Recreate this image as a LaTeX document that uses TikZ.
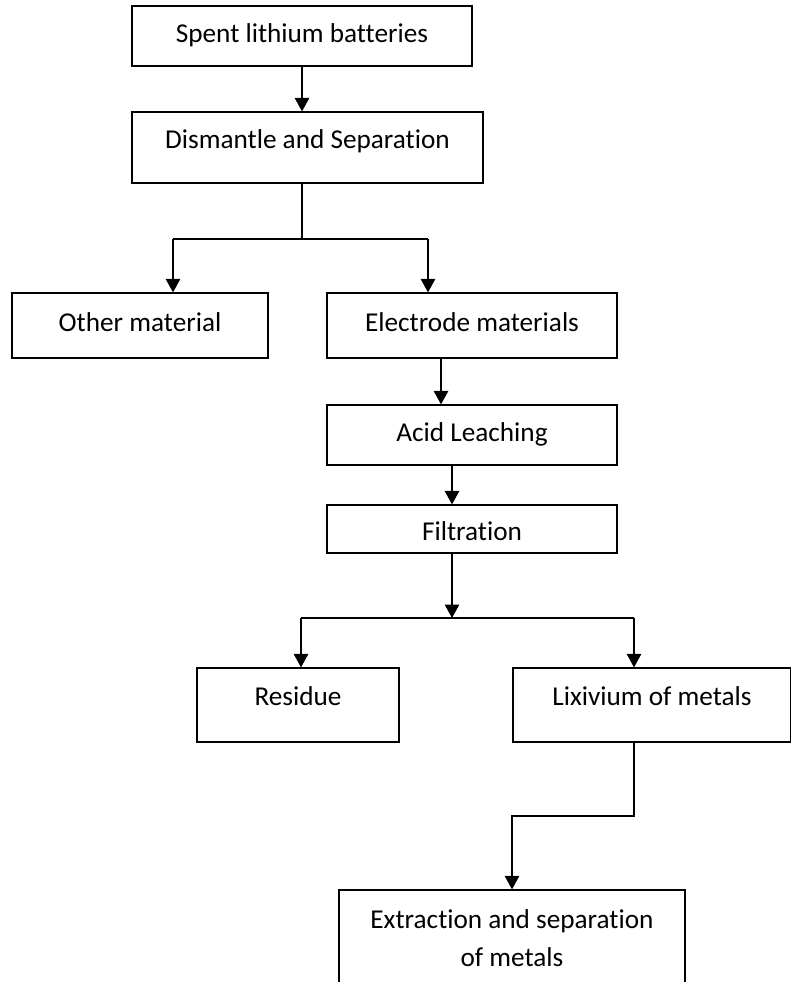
\documentclass[tikz,border=0pt]{standalone}
\usepackage{fontspec}
\setmainfont{Carlito}[Ligatures={NoCommon,NoContextual}]
\usetikzlibrary{positioning,arrows.meta,calc}
\tikzset{
    procbox/.style={
        draw=black, fill=white, line width=0.7pt,
        font=\fontsize{15.5}{21.6}\selectfont, align=center,
        inner sep=0pt
    },
    oneline/.style={
        procbox, text height=10pt, text depth=3.5pt
    },
    arrow/.style={-{Triangle[length=0.27cm, width=0.29cm]}, line width=0.7pt},
    link/.style={line width=0.7pt},
}

\begin{document}
\begin{tikzpicture}[x=0.02cm, y=-0.02cm]
    \useasboundingbox (0,0) rectangle (790,982);
    % boxes
    \node[oneline, minimum width=6.8cm, minimum height=1.2cm, text height=11pt] (spent) at (302,36) {Spent lithium batteries};
    \node[oneline, minimum width=7.02cm, minimum height=1.42cm, text depth=8.6pt] (dismantle) at (307.5,147.5) {Dismantle and Separation};
    \node[oneline, minimum width=5.12cm, minimum height=1.3cm] (other) at (140,325.5) {Other material};
    \node[oneline, minimum width=5.8cm, minimum height=1.3cm] (electrode) at (472,325.5) {Electrode materials};
    \node[oneline, minimum width=5.8cm, minimum height=1.2cm, text height=11.1pt] (acid) at (472,435) {Acid Leaching};
    \node[oneline, minimum width=5.8cm, minimum height=0.96cm, text height=16.8pt] (filt) at (472,529) {Filtration};
    \node[oneline, minimum width=4.04cm, minimum height=1.48cm, text depth=9.2pt] (residue) at (298,705) {Residue};
    \node[oneline, minimum width=5.56cm, minimum height=1.48cm, text depth=9.2pt] (lixivium) at (652,705) {Lixivium of metals};
    \node[procbox, minimum width=6.92cm, minimum height=1.92cm] (extract) at (512,938) {Extraction and separation\\of metals};

    % junction points
    \coordinate (splitA) at (302,239);
    \coordinate (splitAl) at (173,239);
    \coordinate (splitAr) at (428,239);
    \coordinate (splitB) at (452,618);
    \coordinate (splitBl) at (301,618);
    \coordinate (splitBr) at (634,618);
    \coordinate (bend) at (634,816);

    % connectors
    \draw[arrow] (spent.south) -- (spent.south |- dismantle.north);
    \draw[link] (splitA |- dismantle.south) -- (splitA);
    \draw[link] (splitAl) -- (splitAr);
    \draw[arrow] (splitAl) -- (splitAl |- other.north);
    \draw[arrow] (splitAr) -- (splitAr |- electrode.north);
    \draw[arrow] ([xshift=-0.62cm]electrode.south) -- ([xshift=-0.62cm]electrode.south |- acid.north);
    \draw[arrow] ([xshift=-0.4cm]acid.south) -- ([xshift=-0.4cm]acid.south |- filt.north);
    \draw[arrow] (splitB |- filt.south) -- (splitB);
    \draw[link] (splitBl) -- (splitBr);
    \draw[arrow] (splitBl) -- (splitBl |- residue.north);
    \draw[arrow] (splitBr) -- (splitBr |- lixivium.north);
    \draw[arrow] (bend |- lixivium.south) -- (bend) -| (extract.north);
\end{tikzpicture}
\end{document}
